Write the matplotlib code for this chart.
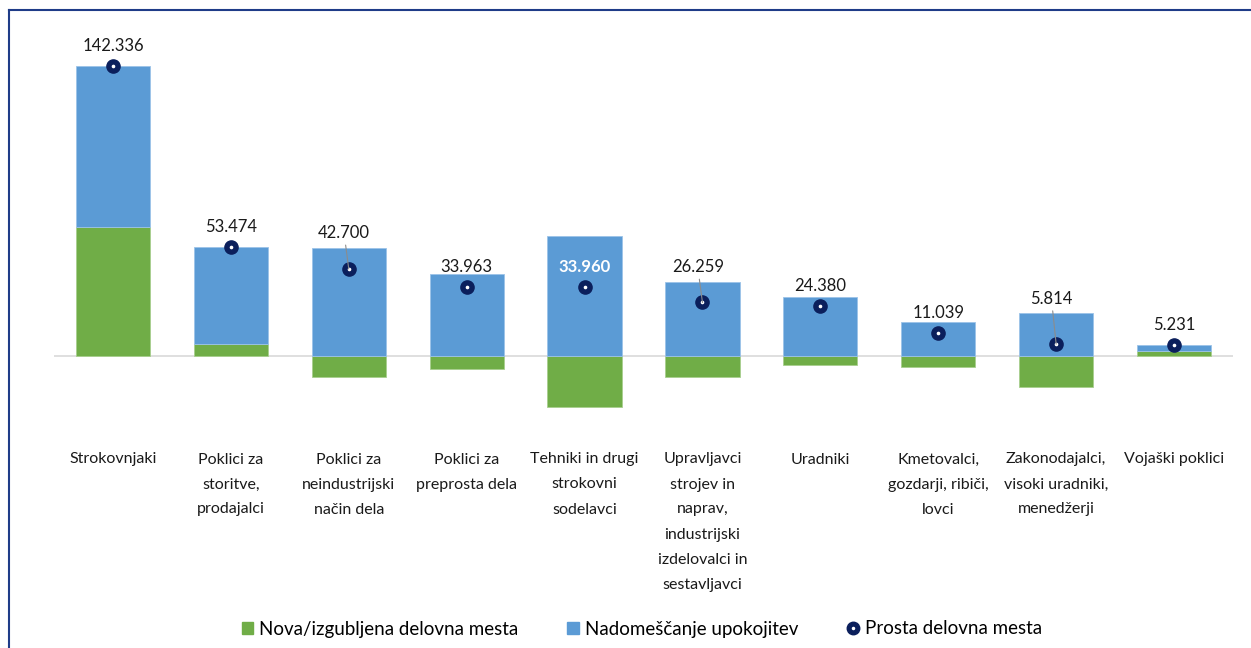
import numpy as np
import matplotlib
matplotlib.use("Agg")
import matplotlib.pyplot as plt
from matplotlib.patches import Patch
from matplotlib.lines import Line2D
from matplotlib.legend_handler import HandlerTuple

# -----------------------------
# DATA
# -----------------------------
categories = [
    "Strokovnjaki",
    "Poklici za\nstoritve,\nprodajalci",
    "Poklici za\nneindustrijski\nnačin dela",
    "Poklici za\npreprosta dela",
    "Tehniki in drugi\nstrokovni\nsodelavci",
    "Upravljavci\nstrojev in\nnaprav,\nindustrijski\nizdelovalci in\nsestavljavci",
    "Uradniki",
    "Kmetovalci,\ngozdarji, ribiči,\nlovci",
    "Zakonodajalci,\nvisoki uradniki,\nmenedžerji",
    "Vojaški poklici",
]
nova_mesta = [63200, 5900, -10500, -6400, -24900, -10200, -4400, -5500, -15100, 2600]
nadomescanje = [79136, 47574, 53200, 40363, 58860, 36459, 28780, 16539, 20914, 2631]
prosta_mesta = [142336, 53474, 42700, 33963, 33960, 26259, 24380, 11039, 5814, 5231]

# labels that sit above the bar with a leader line, and the one drawn inside
leader_idx = [2, 5, 8]
inside_idx = [4]

# -----------------------------
# STYLE
# -----------------------------
GREEN = "#70AD47"
BLUE = "#5B9BD5"
NAVY = "#0B1F5C"
FRAME = "#1F3C88"
plt.rcParams["font.family"] = ["Lato", "DejaVu Sans"]

fig = plt.figure(figsize=(12.51, 6.48), dpi=100)
ax = fig.add_axes([54 / 1251, 1 - 440 / 648, 1179 / 1251, 410 / 648])

x = np.arange(len(categories))
nova = np.array(nova_mesta)
nadom = np.array(nadomescanje)
total = np.array(prosta_mesta)

ax.bar(x, nova, width=0.63, color=GREEN, edgecolor="#a8cf8e", linewidth=0.6, zorder=2)
ax.bar(x, nadom, bottom=np.maximum(nova, 0), width=0.63, color=BLUE,
       edgecolor="#9cc3e8", linewidth=0.6, zorder=2)
ax.axhline(0, color="#d9d9d9", lw=1.2, zorder=1)

ax.plot(x, total, "o", ms=9.5, color=NAVY, zorder=4)
ax.plot(x, total, "o", ms=1.6, color="white", zorder=5)

blue_top = np.maximum(nova, 0) + nadom
for i, v in enumerate(total):
    txt = f"{v:,}".replace(",", ".")
    if i in leader_idx:
        ax.annotate(txt, xy=(x[i], v), xytext=(x[i] - 0.04, blue_top[i] + 7200),
                    ha="center", va="center", fontsize=12, color="#1a1a1a",
                    arrowprops=dict(arrowstyle="-", color="#8c8c8c", lw=0.8,
                                    shrinkA=1, shrinkB=0), zorder=6)
    elif i in inside_idx:
        ax.annotate(txt, xy=(x[i], v), xytext=(0, 14), textcoords="offset points",
                    ha="center", va="center", fontsize=12, color="white",
                    fontweight="bold", zorder=6)
    else:
        ax.annotate(txt, xy=(x[i], v), xytext=(0, 14.5), textcoords="offset points",
                    ha="center", va="center", fontsize=12, color="#1a1a1a", zorder=6)

ax.set_xlim(-0.5, len(categories) - 0.5)
ax.set_ylim(-41240, 160000)
ax.set_xticks(x)
ax.set_xticklabels(categories, fontsize=11.5, color="#1a1a1a", linespacing=2.0, va="top")
ax.tick_params(axis="x", length=0, pad=9)
ax.set_yticks([])
for s in ax.spines.values():
    s.set_visible(False)

# legend
handles = [
    Patch(color=GREEN),
    Patch(color=BLUE),
    (Line2D([], [], marker="o", ls="", ms=9, color=NAVY),
     Line2D([], [], marker="o", ls="", ms=1.5, color="white")),
]
labels = ["Nova/izgubljena delovna mesta", "Nadomeščanje upokojitev", "Prosta delovna mesta"]
fig.legend(handles, labels, loc="center", bbox_to_anchor=(642 / 1251, 1 - 629 / 648),
           ncol=3, frameon=False, fontsize=13.5, handlelength=0.6, handleheight=0.6,
           handletextpad=0.35, columnspacing=2.6,
           handler_map={tuple: HandlerTuple(ndivide=1, pad=0)})

# frame lines (left and top)
fig.add_artist(Line2D([9 / 1251, 9 / 1251], [0, 1 - 10 / 648], color=FRAME, lw=1.5))
fig.add_artist(Line2D([9 / 1251, 1], [1 - 10 / 648, 1 - 10 / 648], color=FRAME, lw=1.5))

fig.savefig("out.png", dpi=100)
